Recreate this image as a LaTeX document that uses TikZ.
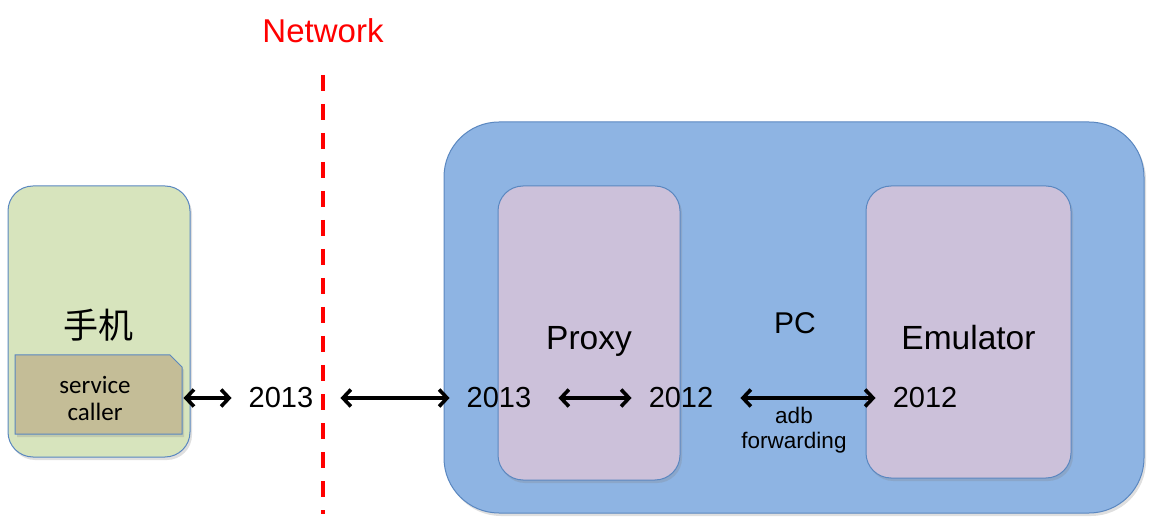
\documentclass[tikz,border=0pt]{standalone}
\usepackage{fontspec}
\setmainfont{Liberation Sans}
\newfontfamily\cjk{Noto Sans CJK SC}
\newfontfamily\calib{Carlito}
\usetikzlibrary{arrows.meta,shapes.misc,shadows}
\definecolor{phonefill}{HTML}{D7E4BD}
\definecolor{boxline}{HTML}{5A87C0}
\definecolor{pcfill}{HTML}{8EB4E3}
\definecolor{purplefill}{HTML}{CCC1DA}
\definecolor{tanfill}{HTML}{C4BD97}
\tikzset{
  shd/.style={drop shadow={shadow xshift=2pt,shadow yshift=-3pt,opacity=0.25}},
  panel/.style={draw=boxline,line width=1pt,shd,inner sep=0pt},
  lbl/.style={inner sep=0pt,font=\fontsize{29}{33}\selectfont},
  big/.style={inner sep=0pt,font=\fontsize{33.5}{38}\selectfont},
  biarrow/.style={line width=3.6pt,{Straight Barb[length=8pt,width=17pt,line width=3.6pt]}-{Straight Barb[length=8pt,width=17pt,line width=3.6pt]},shorten <=27pt,shorten >=17pt},
}
\begin{document}
\begin{tikzpicture}[x=1pt,y=-1pt]
\useasboundingbox (0,0) rectangle (1151,526);
% network
\node[inner sep=0pt,text=red,font=\fontsize{33}{38}\selectfont] (net) at (323,31) {Network};
\coordinate (ntop) at (323,75);
\coordinate (nbot) at (323,514);
\draw[red,line width=4pt,dash pattern=on 16pt off 13pt] (ntop) -- (nbot);
% phone
\node[panel,fill=phonefill,rounded corners=25pt,minimum width=182pt,minimum height=271pt] (phone) at (99,321.5) {};
\node[inner sep=0pt,font=\cjk\fontsize{35}{40}\selectfont] (phtxt) at (98,325) {手机};
\node[panel,fill=tanfill,chamfered rectangle,chamfered rectangle corners=north east,chamfered rectangle xsep=6pt,chamfered rectangle ysep=6pt,minimum width=167pt,minimum height=79pt,font=\calib\fontsize{25}{27}\selectfont] (sc) at (98.5,394.5) {\hspace*{-7pt}\raisebox{-7pt}[\height][\depth]{\begin{tabular}{@{}c@{}}service\\[0.5pt]caller\end{tabular}}};
% PC
\node[panel,fill=pcfill,rounded corners=55pt,minimum width=700pt,minimum height=391pt] (pc) at (794,317.5) {};
\node[panel,fill=purplefill,rounded corners=25pt,minimum width=182pt,minimum height=294pt] (proxy) at (589,333) {};
\node[panel,fill=purplefill,rounded corners=25pt,minimum width=205pt,minimum height=292pt] (emu) at (968.5,332) {};
\node[big] (proxytxt) at (589,341) {Proxy};
\node[big] (emutxt) at (968.5,338) {Emulator};
\node[inner sep=0pt,font=\fontsize{30}{34}\selectfont] (pctxt) at (795,323) {PC};
% ports
\node[lbl] (t1) at (281,398) {2013};
\node[lbl] (t2) at (499,398) {2013};
\node[lbl] (t3) at (681,398) {2012};
\node[lbl] (t4) at (925,398) {2012};
\node[inner sep=0pt,align=center,font=\fontsize{22.5}{25}\selectfont] (adb) at (794,430) {adb\\forwarding};
% arrows
\draw[biarrow,shorten <=1pt] (sc.east |- t1.west) -- (t1.west);
\draw[biarrow] (t1.east) -- (t2.west);
\draw[biarrow] (t2.east) -- (t3.west);
\draw[biarrow] (t3.east) -- (t4.west);
\end{tikzpicture}
\end{document}
